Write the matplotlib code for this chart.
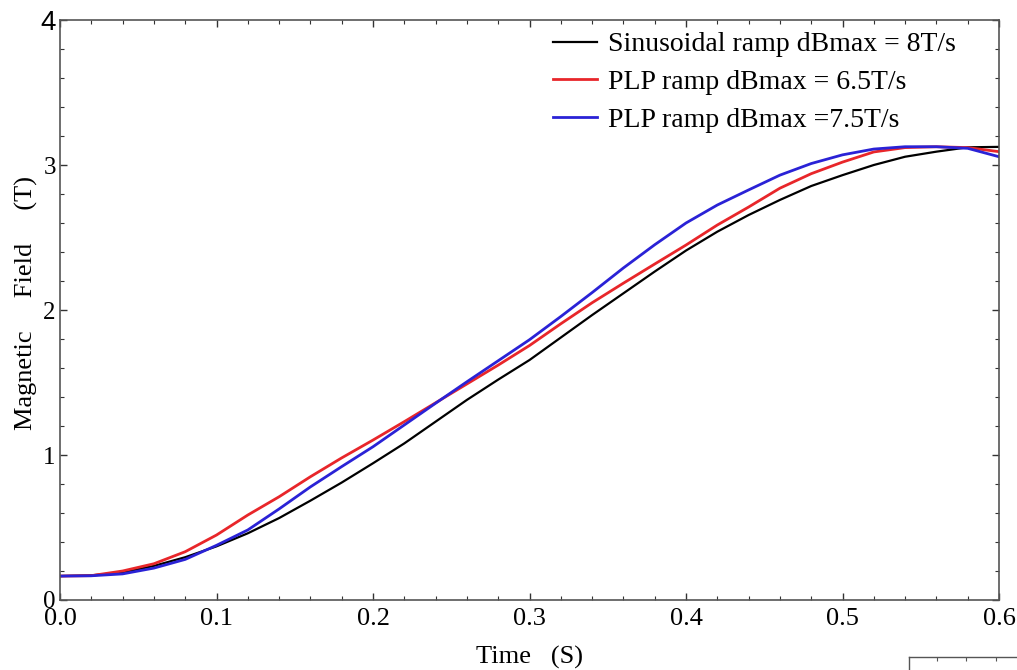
import matplotlib
matplotlib.use("Agg")
import matplotlib.pyplot as plt
from matplotlib.ticker import MultipleLocator

plt.rcParams['font.family'] = ['Liberation Serif', 'DejaVu Serif']

t = [0.00, 0.02, 0.04, 0.06, 0.08, 0.10, 0.12, 0.14, 0.16, 0.18, 0.20,
     0.22, 0.24, 0.26, 0.28, 0.30, 0.32, 0.34, 0.36, 0.38, 0.40,
     0.42, 0.44, 0.46, 0.48, 0.50, 0.52, 0.54, 0.56, 0.58, 0.60]
sinus = [0.165, 0.170, 0.190, 0.235, 0.295, 0.370, 0.460, 0.565, 0.685, 0.810, 0.943,
         1.080, 1.230, 1.380, 1.520, 1.655, 1.810, 1.965, 2.115, 2.265, 2.410,
         2.540, 2.655, 2.759, 2.855, 2.930, 3.000, 3.057, 3.092, 3.122, 3.125]
plp65 = [0.165, 0.168, 0.200, 0.250, 0.333, 0.448, 0.586, 0.712, 0.850, 0.980, 1.103,
         1.230, 1.360, 1.490, 1.620, 1.755, 1.905, 2.050, 2.185, 2.317, 2.448,
         2.586, 2.710, 2.840, 2.940, 3.020, 3.090, 3.120, 3.126, 3.120, 3.092]
plp75 = [0.165, 0.167, 0.180, 0.220, 0.280, 0.377, 0.483, 0.628, 0.780, 0.920, 1.057,
         1.207, 1.357, 1.505, 1.650, 1.795, 1.955, 2.120, 2.290, 2.450, 2.600,
         2.724, 2.828, 2.930, 3.010, 3.070, 3.110, 3.126, 3.126, 3.115, 3.057]

labels = ["Sinusoidal ramp dBmax = 8T/s", "PLP ramp dBmax = 6.5T/s", "PLP ramp dBmax =7.5T/s"]
xticks = [0.0, 0.1, 0.2, 0.3, 0.4, 0.5, 0.6]
xticklabels = ["0.0", "0.1", "0.2", "0.3", "0.4", "0.5", "0.6"]
yticks = [0, 1, 2, 3, 4]
yticklabels = ["0", "1", "2", "3", "4"]

fig = plt.figure(figsize=(10.17, 6.70), dpi=100)
ax = fig.add_axes([60/1017, 70/670, 939/1017, 580/670])

ax.plot(t, sinus, color='black', lw=1.6, label=labels[0])
ax.plot(t, plp65, color='#e8262a', lw=2.0, label=labels[1])
ax.plot(t, plp75, color='#2a22d6', lw=2.0, label=labels[2])

ax.set_xlim(0, 0.6)
ax.set_ylim(0, 4)
ax.set_xticks(xticks)
ax.set_xticklabels(xticklabels)
ax.set_yticks(yticks)
ax.set_yticklabels(yticklabels)
ax.xaxis.set_minor_locator(MultipleLocator(0.02))
ax.yaxis.set_minor_locator(MultipleLocator(0.2))
ax.tick_params(which='both', direction='in', top=True, right=True, color='#333333')
ax.tick_params(which='major', length=5, width=1.0)
ax.tick_params(which='minor', length=3, width=0.8)
ax.tick_params(axis='x', which='major', labelsize=19, pad=6)
ax.tick_params(axis='y', which='major', labelsize=18, pad=3)
for tl in ax.get_yticklabels():
    if tl.get_text() == "4":
        tl.set_fontfamily(['Liberation Sans', 'DejaVu Sans'])
        tl.set_fontsize(20)
for s in ax.spines.values():
    s.set_color('#555555')
    s.set_linewidth(1.2)

ax.set_xlabel("Time   (S)", fontsize=19, labelpad=11)
ax.set_ylabel("Magnetic     Field     (T)", fontsize=19, labelpad=2)
ax.yaxis.label.set_y((600 - 303) / 580)

leg = ax.legend(loc='upper left', frameon=False, fontsize=20, handlelength=1.58,
                handletextpad=0.4, labelspacing=0.44, borderaxespad=0.0,
                borderpad=0.0, bbox_to_anchor=((553 - 60) / 939, (600 - 32) / 580))

# partial neighbouring frame at bottom right
ax2 = fig.add_axes([909/1017, -0.05, 0.2, (670-657)/670 + 0.05])
ax2.set_xlim(0, 1)
ax2.set_ylim(0, 1)
ax2.spines['right'].set_visible(False)
ax2.spines['bottom'].set_visible(False)
for s in ['left', 'top']:
    ax2.spines[s].set_color('#555555')
    ax2.spines[s].set_linewidth(1.0)
ax2.set_xticks([29/207, 58/207, 89/207])
ax2.set_yticks([])
ax2.tick_params(axis='x', direction='in', top=True, bottom=False, labelbottom=False,
                length=3, color='#555555')
ax2.patch.set_alpha(0)

fig.savefig("out.png", dpi=100)
